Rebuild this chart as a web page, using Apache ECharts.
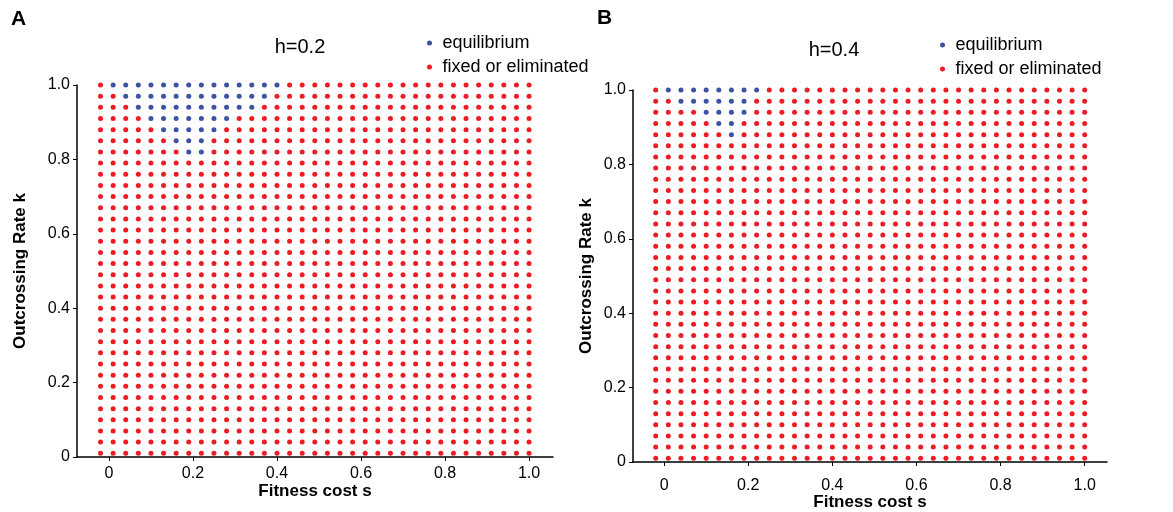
<!DOCTYPE html>
<html>
<head>
<meta charset="utf-8">
<script src="https://cdn.jsdelivr.net/npm/echarts@6/dist/echarts.min.js"></script>
<style>
  html, body { margin: 0; padding: 0; background: #fff; }
  #chart { width: 1173px; height: 512px; }
</style>
</head>
<body>
<div id="chart"></div>
<script>
// grid of simulated parameters: fitness cost s (columns) and outcrossing rate k (rows)
var sValues = [-0.02, 0.01, 0.04, 0.07, 0.10, 0.13, 0.16, 0.19, 0.22, 0.25, 0.28, 0.31,
               0.34, 0.37, 0.40, 0.43, 0.46, 0.49, 0.52, 0.55, 0.58, 0.61, 0.64, 0.67,
               0.70, 0.73, 0.76, 0.79, 0.82, 0.85, 0.88, 0.91, 0.94, 0.97, 1.00];
var kValues = [0.01, 0.04, 0.07, 0.10, 0.13, 0.16, 0.19, 0.22, 0.25, 0.28, 0.31, 0.34,
               0.37, 0.40, 0.43, 0.46, 0.49, 0.52, 0.55, 0.58, 0.61, 0.64, 0.67, 0.70,
               0.73, 0.76, 0.79, 0.82, 0.85, 0.88, 0.91, 0.94, 0.97, 1.00];
var tickValues = [0, 0.2, 0.4, 0.6, 0.8, 1.0];
var tickLabels = ['0', '0.2', '0.4', '0.6', '0.8', '1.0'];
var seriesNames = ['equilibrium', 'fixed or eliminated'];
var panelTitles = ['h=0.2', 'h=0.4'];
var panelLetters = ['A', 'B'];

// rows that reach equilibrium: [k, first s, last s]
var equilibriumA = [[1.00, 0.01, 0.40], [0.97, 0.04, 0.37], [0.94, 0.07, 0.34],
                    [0.91, 0.10, 0.28], [0.88, 0.13, 0.25], [0.85, 0.16, 0.22],
                    [0.82, 0.19, 0.22]];
var equilibriumB = [[1.00, 0.01, 0.22], [0.97, 0.04, 0.19], [0.94, 0.10, 0.19],
                    [0.91, 0.13, 0.16], [0.88, 0.16, 0.16]];

var BLUE = '#3a53a4';
var RED = '#ed1c24';
var FONT = '"Liberation Sans", Arial, sans-serif';

function splitPoints(eq) {
    var eqPts = [], otherPts = [];
    kValues.forEach(function (k) {
        sValues.forEach(function (s) {
            var hit = eq.some(function (r) {
                return Math.abs(r[0] - k) < 1e-6 && s >= r[1] - 1e-6 && s <= r[2] + 1e-6;
            });
            (hit ? eqPts : otherPts).push([s, k]);
        });
    });
    return [eqPts, otherPts];
}

function fmt(v) {
    var i = tickValues.indexOf(v);
    return i >= 0 ? tickLabels[i] : '';
}

function xAxisOf(idx, min, max, margin, gap) {
    return {
        gridIndex: idx, type: 'value', min: min, max: max,
        axisLine: { onZero: false, lineStyle: { color: '#000', width: 1.5 } },
        axisTick: { customValues: tickValues, length: 4, lineStyle: { color: '#000' } },
        axisLabel: { customValues: tickValues, formatter: fmt, color: '#000', fontSize: 16, fontFamily: FONT, margin: margin },
        splitLine: { show: false },
        name: 'Fitness cost s', nameLocation: 'middle', nameGap: gap, nameMoveOverlap: false,
        nameTextStyle: { color: '#000', fontSize: 17, fontWeight: 'bold', fontFamily: FONT }
    };
}

function yAxisOf(idx, shiftUp, gap) {
    return {
        gridIndex: idx, type: 'value', min: 0, max: 1,
        axisLine: { onZero: false, lineStyle: { color: '#000', width: 1.5 } },
        axisTick: { customValues: tickValues, length: 4, lineStyle: { color: '#000' } },
        axisLabel: { customValues: tickValues, formatter: fmt, color: '#000', fontSize: 16, fontFamily: FONT,
                     margin: 7, padding: [0, 0, shiftUp * 2, 0] },
        splitLine: { show: false },
        name: 'Outcrossing Rate k', nameLocation: 'middle', nameGap: gap,
        nameTextStyle: { color: '#000', fontSize: 17, fontWeight: 'bold', fontFamily: FONT }
    };
}

function legendOf(left, top) {
    return {
        left: left, top: top, orient: 'vertical', icon: 'circle',
        itemWidth: 16, itemHeight: 5, itemGap: 6,
        textStyle: { color: '#000', fontSize: 18, fontFamily: FONT },
        data: seriesNames
    };
}

var ptsA = splitPoints(equilibriumA);
var ptsB = splitPoints(equilibriumB);

function scatter(name, data, idx, color) {
    return {
        name: name, type: 'scatter', xAxisIndex: idx, yAxisIndex: idx,
        data: data, symbolSize: 5, clip: false, silent: true,
        itemStyle: { color: color, opacity: 1 }
    };
}

var myChart = echarts.init(document.getElementById('chart'));
var option = {
    animation: false,
    backgroundColor: '#fff',
    textStyle: { fontFamily: FONT },
    grid: [
        { left: 77, top: 85, width: 476, height: 372, outerBoundsMode: 'none', containLabel: false },
        { left: 633, top: 90, width: 474, height: 372, outerBoundsMode: 'none', containLabel: false }
    ],
    xAxis: [xAxisOf(0, -0.076, 1.057, 9, 26), xAxisOf(1, -0.074, 1.053, 16, 32)],
    yAxis: [yAxisOf(0, 5, 48), yAxisOf(1, 4, 38)],
    legend: [legendOf(422, 29), legendOf(935, 31)],
    graphic: [
        { type: 'text', x: 11, y: 9, style: { text: panelLetters[0], font: 'bold 21px ' + FONT, fill: '#000' } },
        { type: 'text', x: 597, y: 8, style: { text: panelLetters[1], font: 'bold 21px ' + FONT, fill: '#000' } },
        { type: 'text', x: 300, y: 47, style: { text: panelTitles[0], font: '20px ' + FONT, fill: '#000', align: 'center', verticalAlign: 'middle' } },
        { type: 'text', x: 834, y: 50, style: { text: panelTitles[1], font: '20px ' + FONT, fill: '#000', align: 'center', verticalAlign: 'middle' } }
    ],
    series: [
        scatter(seriesNames[0], ptsA[0], 0, BLUE),
        scatter(seriesNames[1], ptsA[1], 0, RED),
        scatter(seriesNames[0], ptsB[0], 1, BLUE),
        scatter(seriesNames[1], ptsB[1], 1, RED)
    ]
};
myChart.setOption(option);

window.onresize = function () {
    myChart.resize();
};
</script>
</body>
</html>
